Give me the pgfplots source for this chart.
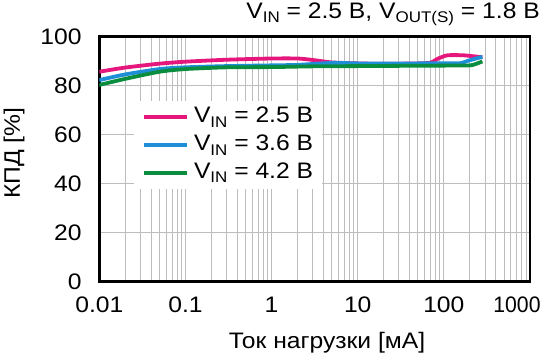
\documentclass[border=0pt]{standalone}
\usepackage{fontspec}
\setmainfont{Liberation Sans}[FakeStretch=1.1]
\usepackage{pgfplots}
\pgfplotsset{compat=1.18}
\definecolor{cpink}{HTML}{E6177C}
\definecolor{cblue}{HTML}{1E8ED6}
\definecolor{cgreen}{HTML}{0A8D3E}
\definecolor{cgrid}{HTML}{BDBDBD}
\newcommand{\sub}[1]{\raisebox{-4.5bp}{\fontsize{15.5}{15.5}\selectfont #1}}
\newcommand{\fnt}{\fontsize{22.5}{26}\selectfont}
\begin{document}
\begin{tikzpicture}
\begin{axis}[
  at={(0,0)}, anchor=south west,
  xmode=log, log basis x=10,
  scale only axis, width=430.7bp, height=245bp,
  xmin=0.01, xmax=1000, ymin=0, ymax=100,
  xtick={0.01,0.1,1,10,100,1000},
  xticklabels={0.01,0.1,1,10,100,{\makebox[0pt]{\hspace*{-26bp}\scalebox{0.86}[1]{1000}}}},
  minor xtick={0.02,0.03,0.04,0.05,0.06,0.07,0.08,0.09,0.2,0.3,0.4,0.5,0.6,0.7,0.8,0.9,2,3,4,5,6,7,8,9,20,30,40,50,60,70,80,90,200,300,400,500,600,700,800,900},
  ytick={0,20,40,60,80,100},
  yticklabels={0,20,40,60,80,100},
  major tick length=0pt, minor tick length=0pt,
  grid=both,
  major grid style={cgrid, line width=0.9bp},
  minor grid style={cgrid, line width=0.9bp},
  axis line style={line width=2.6bp, black},
  ticklabel style={font=\fnt},
  xticklabel style={anchor=north, inner sep=0pt, yshift=-15bp},
  yticklabel style={anchor=east, inner sep=0pt, xshift=-17.5bp},
  legend style={at={(rel axis cs:0.079,0.7376)}, anchor=north west, draw=none, fill=white,
     font=\fnt, inner xsep=8.4bp, inner ysep=5.7bp, row sep=6.7bp,
     nodes={inner sep=0pt, text height=16bp, text depth=5bp}},
  legend cell align=left,
  legend image code/.code={\draw[#1] (0bp,0bp) -- (43.3bp,0bp);},
  /tikz/every odd column/.append style={column sep=5bp},
]
\addplot[cpink, line width=3.8bp, smooth, tension=0.4] coordinates {
(0.01,85.7) (0.02,87.4) (0.05,89.0) (0.1,89.8) (0.3,90.6) (1,91.1) (2,91.1) (3,90.5) (5,89.5) (10,89.1) (20,88.9) (50,89.1) (70,89.4) (85,91.0) (110,92.4) (170,92.4) (280,91.6)
};
\addlegendentry{V\sub{IN} = 2.5 В}
\addplot[cblue, line width=3.8bp, smooth, tension=0.4] coordinates {
(0.01,82.3) (0.02,84.6) (0.05,86.8) (0.1,87.5) (0.3,88.0) (1,88.3) (2,88.5) (5,89.3) (10,89.1) (20,89.0) (50,89.1) (100,89.2) (155,89.2) (200,90.4) (280,91.8)
};
\addlegendentry{V\sub{IN} = 3.6 В}
\addplot[cgreen, line width=3.8bp, smooth, tension=0.4] coordinates {
(0.01,80.3) (0.02,82.8) (0.05,85.7) (0.1,86.8) (0.3,87.5) (1,87.6) (3,87.9) (10,88.0) (30,88.1) (100,88.2) (200,88.3) (240,89.0) (280,89.9)
};
\addlegendentry{V\sub{IN} = 4.2 В}
\end{axis}
\node[rotate=90, anchor=base, font=\fnt] at (-79.3bp,128.7bp) {КПД [\%]};
\node[anchor=base, font=\fnt] at (227.7bp,-66.7bp) {Ток нагрузки [мА]};
\node[anchor=base east, font=\fnt] at (444bp,263.5bp) {V\sub{IN} = 2.5 В, V\sub{OUT(S)} = 1.8 В};
\pgfresetboundingbox
\path[use as bounding box] (-99.3bp,-73.3bp) rectangle (445.7bp,281.7bp);
\end{tikzpicture}
\end{document}
